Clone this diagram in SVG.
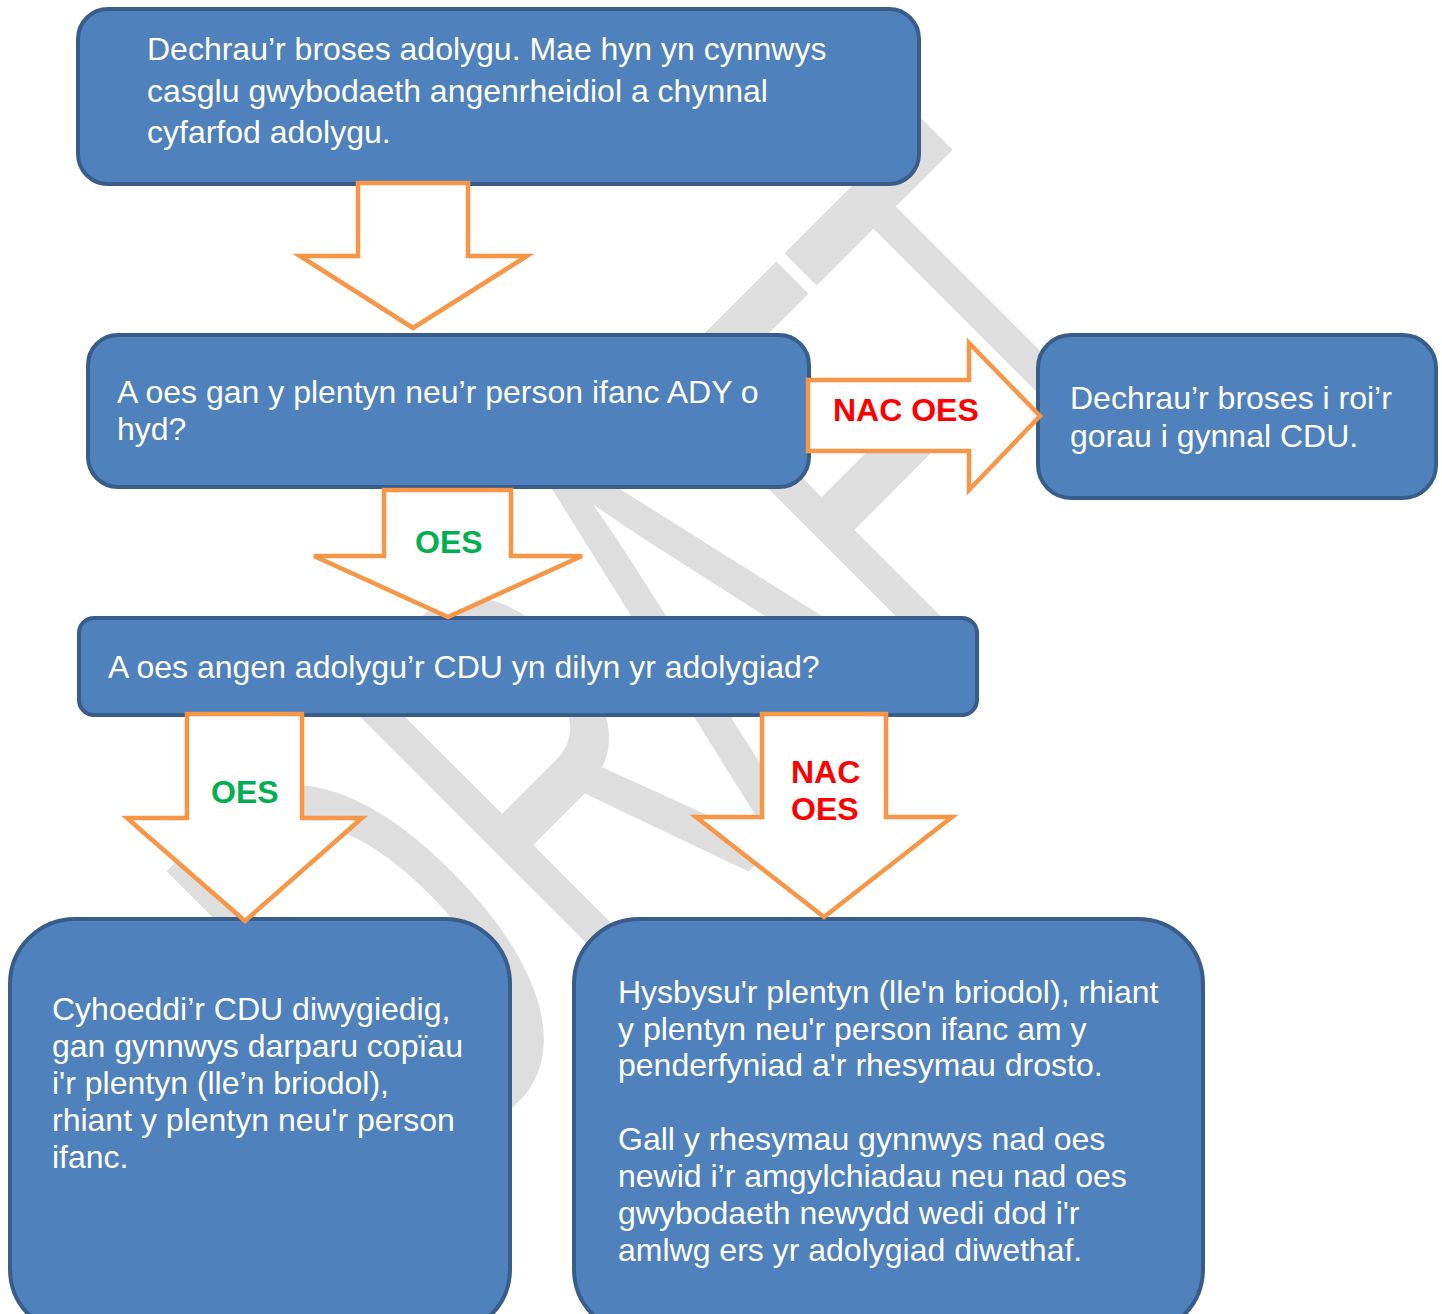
<svg xmlns="http://www.w3.org/2000/svg" width="1442" height="1314" viewBox="0 0 1442 1314">
<style>
.box{fill:#4f81bd;stroke:#385d8a;stroke-width:4}
.arr{fill:#ffffff;stroke:#f79646;stroke-width:4.5;stroke-linejoin:miter}
.t{font-family:"Liberation Sans",Arial,sans-serif;font-size:32px;fill:#ffffff}
.lbl{font-family:"Liberation Sans",Arial,sans-serif;font-size:32px;font-weight:bold}
.no{fill:#ff0000}
.yes{fill:#00b050}
.wm{font-family:"Liberation Sans",Arial,sans-serif;font-size:340px;fill:#dedede}
</style>
<rect width="1442" height="1314" fill="#ffffff"/>
<g id="watermark">
<text class="wm" transform="translate(438,1182) rotate(-45) scale(1,1.76)" x="0 246 475 696 894" y="0">DRAFT</text>
</g>
<g id="n1">
<rect class="box" x="78" y="9" width="841" height="175" rx="30"/>
<text class="t"><tspan x="147" y="60">Dechrau’r broses adolygu. Mae hyn yn cynnwys</tspan><tspan x="147" y="102">casglu gwybodaeth angenrheidiol a chynnal</tspan><tspan x="147" y="143">cyfarfod adolygu.</tspan></text>
</g>
<g id="n2">
<rect class="box" x="88" y="335" width="721" height="152" rx="30"/>
<text class="t"><tspan x="117" y="403">A oes gan y plentyn neu’r person ifanc ADY o</tspan><tspan x="117" y="440">hyd?</tspan></text>
</g>
<g id="n3">
<rect class="box" x="1038" y="335" width="398" height="163" rx="33"/>
<text class="t"><tspan x="1070" y="409">Dechrau’r broses i roi’r</tspan><tspan x="1070" y="447">gorau i gynnal CDU.</tspan></text>
</g>
<g id="n4">
<rect class="box" x="79" y="618" width="898" height="97" rx="15"/>
<text class="t" x="108" y="678">A oes angen adolygu’r CDU yn dilyn yr adolygiad?</text>
</g>
<g id="n5">
<rect class="box" x="10" y="919" width="500" height="415" rx="65"/>
<text class="t"><tspan x="52" y="1020">Cyhoeddi’r CDU diwygiedig,</tspan><tspan x="52" y="1057">gan gynnwys darparu copïau</tspan><tspan x="52" y="1094">i'r plentyn (lle’n briodol),</tspan><tspan x="52" y="1131">rhiant y plentyn neu'r person</tspan><tspan x="52" y="1168">ifanc.</tspan></text>
</g>
<g id="n6">
<rect class="box" x="574" y="919" width="629" height="415" rx="65"/>
<text class="t"><tspan x="618" y="1003">Hysbysu'r plentyn (lle'n briodol), rhiant</tspan><tspan x="618" y="1040">y plentyn neu'r person ifanc am y</tspan><tspan x="618" y="1076">penderfyniad a'r rhesymau drosto.</tspan><tspan x="618" y="1150">Gall y rhesymau gynnwys nad oes</tspan><tspan x="618" y="1187">newid i’r amgylchiadau neu nad oes</tspan><tspan x="618" y="1224">gwybodaeth newydd wedi dod i'r</tspan><tspan x="618" y="1261">amlwg ers yr adolygiad diwethaf.</tspan></text>
</g>
<g id="connectors">
<polygon class="arr" points="358,183 468,183 468,256 527,256 413,328 300,256 358,256"/>
<polygon class="arr" points="808,380 969,380 969,343 1040,416 969,490 969,451 808,451"/>
<text class="lbl no" x="833" y="421">NAC OES</text>
<polygon class="arr" points="384,490 511,490 511,556 582,556 448,617 314,556 384,556"/>
<text class="lbl yes" x="415" y="553">OES</text>
<polygon class="arr" points="187,714 302,714 302,818 362,818 245,921 127,818 187,818"/>
<text class="lbl yes" x="211" y="803">OES</text>
<polygon class="arr" points="762,714 886,714 886,817 952,817 824,917 696,817 762,817"/>
<text class="lbl no"><tspan x="791" y="783">NAC</tspan><tspan x="791" y="820">OES</tspan></text>
</g>
</svg>
